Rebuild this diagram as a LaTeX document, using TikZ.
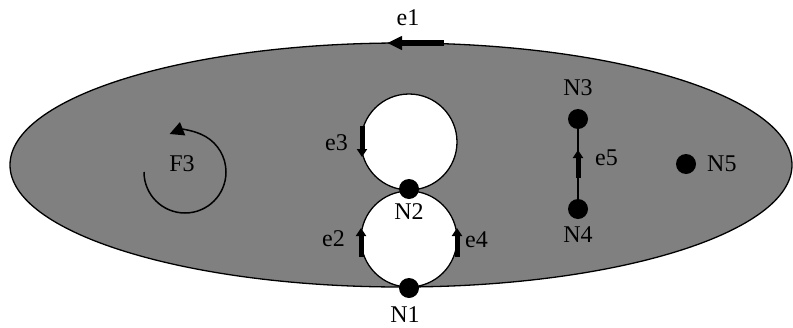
\documentclass[tikz,border=0pt]{standalone}
\usepackage{fontspec}
\setmainfont{Liberation Serif}
\usetikzlibrary{arrows.meta}
\begin{document}
\begin{tikzpicture}[x=1pt,y=-1pt,
  lbl/.style={font=\fontsize{24}{28}\selectfont, inner sep=0pt},
  dot/.style={circle, fill=black, draw=none, minimum size=20pt, inner sep=0pt},
  bigarr/.style={line width=6pt, -{Triangle[length=15pt,width=13pt]}},
  smallarr/.style={line width=5pt, -{Triangle[length=8pt,width=10pt]}},
  edge/.style={line width=1.3pt}]
\useasboundingbox (0,0) rectangle (793,327);
% face
\draw[edge, fill={rgb,255:red,128;green,128;blue,128}] (401,165) ellipse [x radius=391, y radius=122];
% holes
\draw[edge, fill=white] (409,142) circle [radius=48];
\draw[edge, fill=white] (409,239) circle [radius=48];
% nodes
\node[dot] (N1) at (409,288) {};
\node[dot] (N2) at (409,189) {};
\node[dot] (N3) at (578,119) {};
\node[dot] (N4) at (578,209) {};
\node[dot] (N5) at (686,164) {};
% edge e5
\draw[edge] (N4) -- (N3);
% arrows
\coordinate (e1s) at (444,43); \coordinate (e1t) at (387,43);
\draw[bigarr] (e1s) -- (e1t);
\coordinate (e3s) at (362,126); \coordinate (e3t) at (362,157);
\draw[smallarr] (e3s) -- (e3t);
\coordinate (e2s) at (361,257); \coordinate (e2t) at (361,228);
\draw[smallarr] (e2s) -- (e2t);
\coordinate (e4s) at (457,257); \coordinate (e4t) at (457,228);
\draw[smallarr] (e4s) -- (e4t);
\coordinate (e5s) at (578,178); \coordinate (e5t) at (578,150);
\draw[smallarr] (e5s) -- (e5t);
% face orientation
\coordinate (f3s) at (144,172);
\draw[line width=1.5pt, -{Triangle[length=14pt,width=14pt]}] (f3s) arc[start angle=180, end angle=-112, radius=41];
% labels
\node[lbl] (le1) at (408,18) {e1};
\node[lbl] (lN3) at (578,88) {N3};
\node[lbl] (lN4) at (578,235) {N4};
\node[lbl, anchor=west] (lN5) at (707,164) {N5};
\node[lbl, anchor=west] (le5) at (595,158) {e5};
\node[lbl] (lN2) at (409,212) {N2};
\node[lbl] (lN1) at (405,315) {N1};
\node[lbl, anchor=east] (le2) at (345,239) {e2};
\node[lbl, anchor=west] (le4) at (465,240) {e4};
\node[lbl, anchor=east] (le3) at (348,143) {e3};
\node[lbl] (lF3) at (182,164) {F3};
\end{tikzpicture}
\end{document}
